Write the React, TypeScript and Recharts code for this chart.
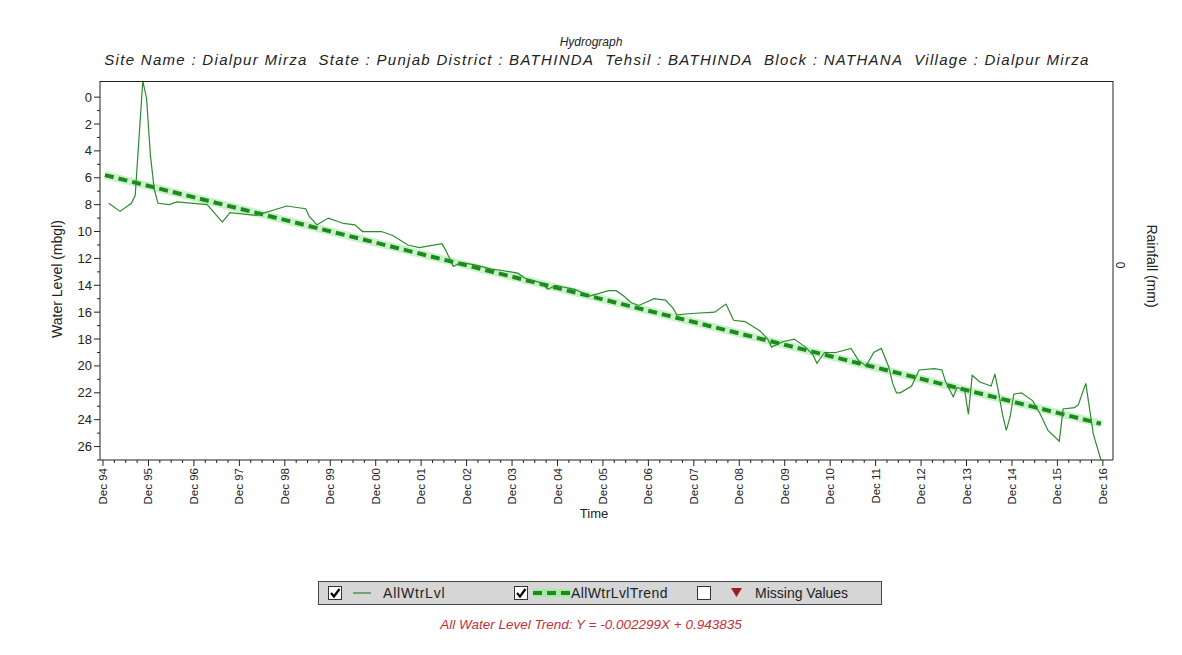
import React from 'react';
import { LineChart, Line, XAxis, YAxis } from 'recharts';

// Observed water level (m below ground level), one entry per measurement month
const levelDates = [
  '1995-01', '1995-04', '1995-07', '1995-08', '1995-10', '1995-11', '1995-12', '1996-01', '1996-02', '1996-05',
  '1996-07', '1997-03', '1997-07', '1997-09', '1998-04', '1998-12', '1999-05', '1999-06', '1999-08', '1999-11',
  '2000-03', '2000-06', '2000-08', '2001-01', '2001-04', '2001-08', '2001-11', '2002-05', '2002-06', '2002-08',
  '2002-10', '2003-02', '2003-06', '2003-09', '2004-01', '2004-03', '2004-07', '2004-09', '2004-11', '2005-04',
  '2005-08', '2006-01', '2006-03', '2006-05', '2006-07', '2006-09', '2007-01', '2007-04', '2007-06', '2007-07',
  '2007-11', '2008-05', '2008-08', '2008-10', '2009-01', '2009-05', '2009-07', '2009-08', '2009-11', '2010-02',
  '2010-05', '2010-07', '2010-08', '2010-10', '2011-01', '2011-05', '2011-07', '2011-09', '2011-11', '2012-01',
  '2012-03', '2012-04', '2012-05', '2012-06', '2012-09', '2012-11', '2013-03', '2013-05', '2013-06', '2013-08',
  '2013-09', '2013-11', '2013-12', '2014-01', '2014-03', '2014-06', '2014-07', '2014-08', '2014-09', '2014-10',
  '2014-11', '2014-12', '2015-02', '2015-05', '2015-07', '2015-09', '2015-12', '2016-01', '2016-04', '2016-05',
  '2016-07', '2016-08', '2016-09', '2016-11',
];
const levelValues = [
  7.9, 8.5, 7.9, 7.3, -1.2, 0.1, 4.3, 6.8, 7.9, 8.0,
  7.8, 8.0, 9.3, 8.6, 8.8, 8.1, 8.3, 8.9, 9.5, 9.0,
  9.4, 9.5, 10.0, 10.0, 10.3, 11.0, 11.2, 10.9, 11.4, 12.6,
  12.3, 12.5, 12.8, 12.9, 13.1, 13.5, 13.8, 14.3, 14.0, 14.3,
  14.8, 14.4, 14.4, 14.8, 15.3, 15.5, 15.0, 15.1, 15.7, 16.2,
  16.1, 16.0, 15.4, 16.6, 16.7, 17.4, 18.0, 18.6, 18.2, 18.0,
  18.6, 19.2, 19.8, 19.0, 19.0, 18.7, 19.6, 20.0, 19.0, 18.7,
  20.1, 21.3, 22.0, 22.0, 21.5, 20.3, 20.2, 20.3, 21.2, 22.3,
  21.6, 21.8, 23.6, 20.7, 21.2, 21.5, 20.6, 22.0, 23.6, 24.8,
  23.8, 22.1, 22.0, 22.6, 23.6, 24.8, 25.6, 23.2, 23.1, 22.9,
  21.3, 23.2, 25.1, 27.0,
];

// Linear trend end points
const trendDates = ['1994-12', '2016-11'];
const trendValues = [5.8, 24.3];

const yLabelTicks = [0, 2, 4, 6, 8, 10, 12, 14, 16, 18, 20, 22, 24, 26];
const xLabelYears = [
  1994, 1995, 1996, 1997, 1998, 1999, 2000, 2001, 2002, 2003, 2004, 2005,
  2006, 2007, 2008, 2009, 2010, 2011, 2012, 2013, 2014, 2015, 2016,
];

const FONT = '"Liberation Sans", Arial, sans-serif';
const X_DOMAIN: [number, number] = [1994.85, 2017.14];

const toYear = (d: string) => {
  const [y, m] = d.split('-').map(Number);
  return y + (m - 0.5) / 12;
};

const levelData = levelDates.map((d, i) => ({ t: toYear(d), level: levelValues[i] }));
const trendData = trendDates.map((d, i) => ({ t: toYear(d), trend: trendValues[i] }));

// Dec of each year gets a label; Mar/Jun/Sep get a short tick
const decTicks = xLabelYears.map((y) => y + 11 / 12);
const xTicks: number[] = [];
[...xLabelYears, 2017].forEach((y) => {
  [2, 5, 8, 11].forEach((m) => {
    const t = y + m / 12;
    if (t >= X_DOMAIN[0] && t <= X_DOMAIN[1]) xTicks.push(t);
  });
});
// odd metres get an unlabelled tick
const yTicks: number[] = [];
yLabelTicks.forEach((v) => {
  yTicks.push(v);
  yTicks.push(v + 1);
});

const XTick = (props: any) => {
  const { x, y, payload } = props;
  const major = decTicks.some((d) => Math.abs(d - payload.value) < 0.01);
  const yr = Math.round(payload.value - 11 / 12) % 100;
  return (
    <g>
      <line x1={x} y1={y} x2={x} y2={y + (major ? 6 : 3)} stroke="#222" />
      {major && (
        <text
          x={x}
          y={y + 8}
          transform={`rotate(-90, ${x}, ${y + 8})`}
          textAnchor="end"
          dy="0.35em"
          fontSize={11.5}
          fontFamily={FONT}
          fill="#222"
        >
          {`Dec ${String(yr).padStart(2, '0')}`}
        </text>
      )}
    </g>
  );
};

const YTick = (props: any) => {
  const { x, y, payload } = props;
  const major = yLabelTicks.includes(payload.value);
  return (
    <g>
      <line x1={x} y1={y} x2={x - (major ? 6 : 3)} y2={y} stroke="#222" />
      {major && (
        <text x={x - 8} y={y} textAnchor="end" dy="0.35em" fontSize={13} fontFamily={FONT} fill="#222">
          {payload.value}
        </text>
      )}
    </g>
  );
};

const CheckBox = ({ left, checked }: { left: number; checked: boolean }) => (
  <div
    style={{
      position: 'absolute',
      left,
      top: 4,
      width: 12,
      height: 12,
      background: '#fff',
      border: '1px solid #333',
    }}
  >
    {checked && (
      <svg width={12} height={12} style={{ position: 'absolute', left: 0, top: 0 }}>
        <path d="M2 6 L5 9.5 L10.5 2" stroke="#000" strokeWidth={2.2} fill="none" />
      </svg>
    )}
  </div>
);

const abs = (left: number, top: number): React.CSSProperties => ({
  position: 'absolute',
  left,
  top,
  fontFamily: FONT,
  color: '#222',
  whiteSpace: 'nowrap',
});

export default function App() {
  return (
    <div style={{ position: 'absolute', left: 0, top: 0, width: 1182, height: 655, background: '#fff' }}>
      <div style={{ ...abs(0, 35), width: 1182, textAlign: 'center', fontSize: 12, fontStyle: 'italic' }}>
        Hydrograph
      </div>
      <div
        style={{
          ...abs(6, 51),
          width: 1182,
          textAlign: 'center',
          fontSize: 15,
          letterSpacing: 1.3,
          fontStyle: 'italic',
        }}
      >
        Site Name : Dialpur Mirza&nbsp; State : Punjab District : BATHINDA&nbsp; Tehsil : BATHINDA&nbsp; Block :
        NATHANA&nbsp; Village : Dialpur Mirza
      </div>

      <LineChart
        width={1182}
        height={655}
        data={levelData}
        margin={{ top: 81, right: 29, bottom: 145, left: 60 }}
        style={{ position: 'absolute', left: 0, top: 0 }}
      >
        <XAxis
          dataKey="t"
          type="number"
          domain={X_DOMAIN}
          ticks={xTicks}
          interval={0}
          allowDataOverflow
          height={50}
          tickSize={0}
          tickMargin={0}
          tickLine={false}
          tick={<XTick />}
          stroke="#222"
        />
        <YAxis
          yAxisId="level"
          type="number"
          reversed
          domain={[-1.2, 27]}
          ticks={yTicks}
          interval={0}
          allowDataOverflow
          width={40}
          tickSize={0}
          tickMargin={0}
          tickLine={false}
          tick={<YTick />}
          stroke="#222"
        />
        <YAxis yAxisId="rain" orientation="right" type="number" domain={[-1, 1]} tick={false} width={40} stroke="#222" />
        {/* soft band behind the trend */}
        <Line
          yAxisId="level"
          data={trendData}
          dataKey="trend"
          stroke="#a6e8a6"
          strokeOpacity={0.6}
          strokeWidth={8}
          dot={false}
          isAnimationActive={false}
        />
        <Line
          yAxisId="level"
          data={trendData}
          dataKey="trend"
          stroke="#1c8a1c"
          strokeWidth={4}
          strokeDasharray="9 5"
          dot={false}
          isAnimationActive={false}
        />
        <Line
          yAxisId="level"
          dataKey="level"
          stroke="#2c8c2c"
          strokeWidth={1.2}
          dot={false}
          isAnimationActive={false}
        />
      </LineChart>

      {/* top edge of the plot frame */}
      <div style={{ position: 'absolute', left: 100, top: 81, width: 1013, height: 1, background: '#222' }} />

      <div
        style={{
          ...abs(57 - 110, 280 - 9),
          width: 220,
          textAlign: 'center',
          fontSize: 14,
          transform: 'rotate(-90deg)',
        }}
      >
        Water Level (mbgl)
      </div>
      <div style={{ ...abs(1117, 258), fontSize: 12, transform: 'rotate(90deg)' }}>0</div>
      <div
        style={{
          ...abs(1152 - 70, 267 - 9),
          width: 140,
          textAlign: 'center',
          fontSize: 14,
          transform: 'rotate(90deg)',
        }}
      >
        Rainfall (mm)
      </div>
      <div style={{ ...abs(574, 506), width: 40, textAlign: 'center', fontSize: 13 }}>Time</div>

      <div
        style={{
          position: 'absolute',
          left: 318,
          top: 581,
          width: 562,
          height: 22,
          background: '#d6d6d6',
          border: '1px solid #444',
        }}
      >
        <CheckBox left={9} checked />
        <svg width={18} height={22} style={{ position: 'absolute', left: 34, top: 0 }}>
          <line x1={0} y1={11} x2={18} y2={11} stroke="#2c8c2c" strokeWidth={1.2} />
        </svg>
        <div style={{ ...abs(64, 3), fontSize: 14, letterSpacing: 0.8 }}>AllWtrLvl</div>
        <CheckBox left={195} checked />
        <svg width={38} height={22} style={{ position: 'absolute', left: 214, top: 0 }}>
          <line x1={0} y1={11} x2={38} y2={11} stroke="#a6e8a6" strokeWidth={8} />
          <line x1={0} y1={11} x2={38} y2={11} stroke="#1c8a1c" strokeWidth={4} strokeDasharray="9 5" />
        </svg>
        <div style={{ ...abs(252, 3), fontSize: 14, letterSpacing: 0.4 }}>AllWtrLvlTrend</div>
        <CheckBox left={378} checked={false} />
        <svg width={14} height={22} style={{ position: 'absolute', left: 411, top: 0 }}>
          <path d="M1 6 L12 6 L6.5 15 Z" fill="#a01c22" />
        </svg>
        <div style={{ ...abs(436, 3), fontSize: 14 }}>Missing Values</div>
      </div>

      <div
        style={{
          ...abs(0, 617),
          width: 1182,
          textAlign: 'center',
          fontSize: 13.5,
          fontStyle: 'italic',
          color: '#c4303a',
        }}
      >
        All Water Level Trend: Y = -0.002299X + 0.943835
      </div>
    </div>
  );
}
